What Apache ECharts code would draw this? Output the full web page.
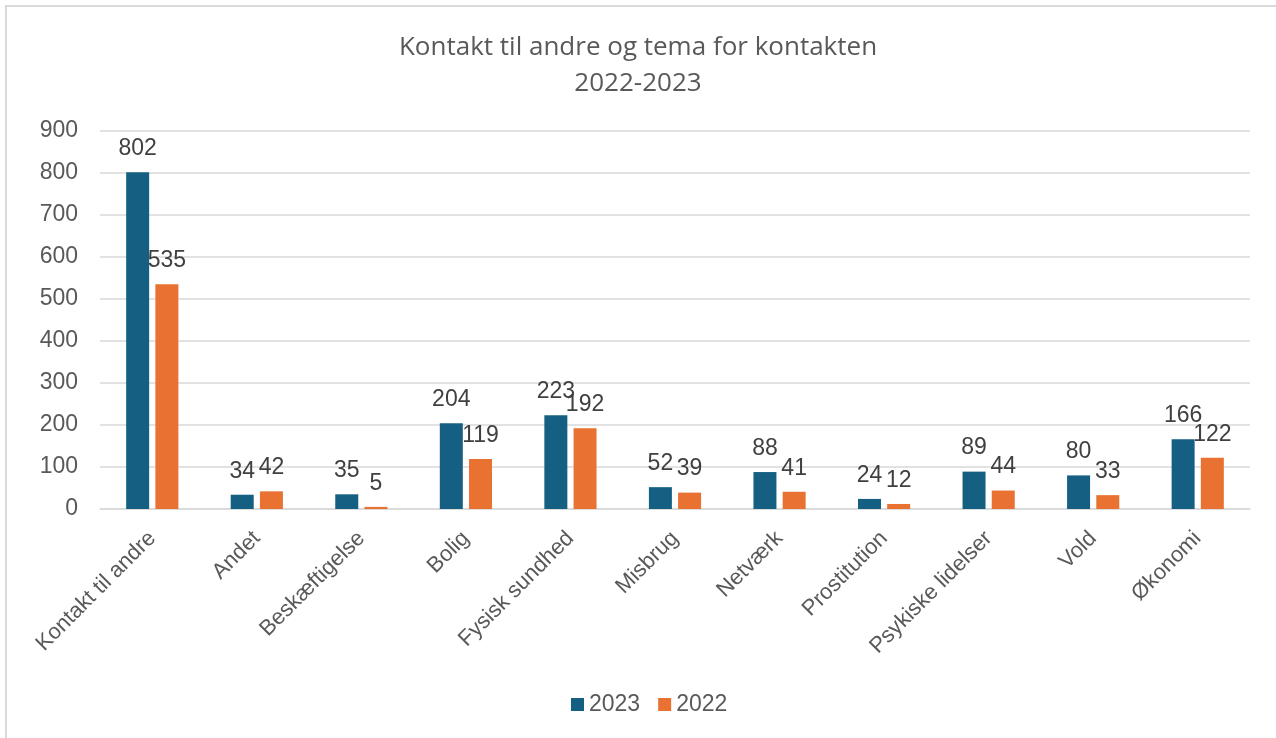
<!DOCTYPE html>
<html lang="da">
<head>
<meta charset="UTF-8">
<title>Kontakt til andre og tema for kontakten</title>
<script src="https://cdn.jsdelivr.net/npm/echarts@6/dist/echarts.min.js"></script>
<style>
  html, body { margin: 0; padding: 0; background: #fff; overflow: hidden; }
  #frame { position: absolute; left: 5px; top: 5px; width: 1400px; height: 800px; border: 2px solid #d9d9d9; }
  #main { position: absolute; left: 0; top: 0; width: 1276px; height: 738px; }
</style>
</head>
<body>
<div id="frame"></div>
<div id="main"></div>
<script>
var categories = ['Kontakt til andre', 'Andet', 'Beskæftigelse', 'Bolig', 'Fysisk sundhed', 'Misbrug',
  'Netværk', 'Prostitution', 'Psykiske lidelser', 'Vold', 'Økonomi'];
var values2023 = [802, 34, 35, 204, 223, 52, 88, 24, 89, 80, 166];
var values2022 = [535, 42, 5, 119, 192, 39, 41, 12, 44, 33, 122];

var chart = echarts.init(document.getElementById('main'));

var labelStyle = {
  show: true,
  position: 'top',
  distance: 12,
  fontSize: 23,
  color: '#404040'
};

var option = {
  animation: false,
  textStyle: { fontFamily: 'Liberation Sans, Arial, sans-serif' },
  title: {
    text: 'Kontakt til andre og tema for kontakten\n2022-2023',
    left: 'center',
    top: 25,
    textStyle: {
      fontFamily: 'Open Sans, sans-serif',
      fontWeight: 'normal',
      fontSize: 26,
      lineHeight: 36,
      color: '#595959'
    }
  },
  legend: {
    bottom: 17,
    left: 566,
    itemWidth: 13,
    itemHeight: 13,
    itemGap: 18,
    icon: 'rect',
    textStyle: { fontSize: 23, color: '#595959' },
    data: ['2023', '2022']
  },
  grid: { left: 100, right: 26, top: 131, bottom: 229, containLabel: false },
  xAxis: {
    type: 'category',
    data: categories,
    axisTick: { show: false },
    axisLine: { lineStyle: { color: '#d9d9d9', width: 1.5 } },
    axisLabel: {
      rotate: 45,
      interval: 0,
      fontSize: 22,
      color: '#595959',
      margin: 26
    }
  },
  yAxis: {
    type: 'value',
    min: 0,
    max: 900,
    interval: 100,
    axisLine: { show: false },
    axisTick: { show: false },
    splitLine: { lineStyle: { color: '#d9d9d9', width: 1.5 } },
    axisLabel: { fontSize: 23, color: '#595959', margin: 22 }
  },
  series: [
    {
      name: '2023',
      type: 'bar',
      data: values2023,
      barWidth: 23,
      barGap: '27%',
      itemStyle: { color: '#156082' },
      label: labelStyle
    },
    {
      name: '2022',
      type: 'bar',
      data: values2022,
      barWidth: 23,
      barGap: '27%',
      itemStyle: { color: '#E97132' },
      label: labelStyle
    }
  ]
};

chart.setOption(option);
</script>
</body>
</html>
